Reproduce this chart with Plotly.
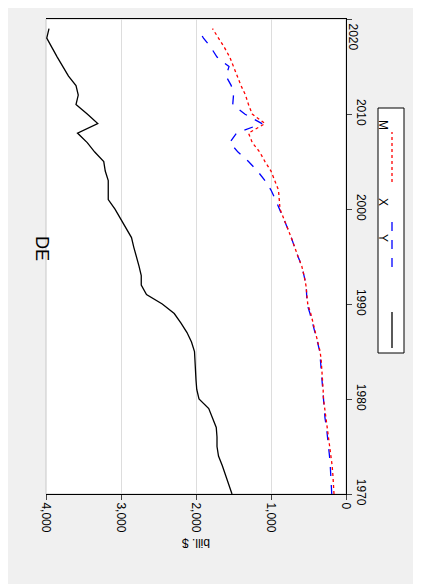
import plotly.graph_objects as go

years = list(range(1970, 2020))
y_gdp = [1520, 1560, 1600, 1650, 1700, 1720, 1720, 1730, 1780, 1830,
         1960, 1990, 2000, 2005, 2010, 2020, 2060, 2120, 2200, 2290,
         2450, 2660, 2730, 2730, 2760, 2800, 2830, 2860, 2930, 3000,
         3080, 3170, 3170, 3170, 3210, 3230, 3350, 3450, 3580, 3310,
         3450, 3600, 3570, 3600, 3700, 3780, 3850, 3920, 3990, 3960]
x_exp = [190, 195, 200, 210, 220, 230, 245, 260, 280, 290,
         300, 310, 320, 330, 340, 350, 380, 410, 450, 480,
         520, 520, 530, 560, 590, 640, 680, 730, 780, 830,
         880, 940, 1000, 1080, 1180, 1300, 1440, 1550, 1460, 1120,
         1350, 1510, 1500, 1530, 1600, 1560, 1720, 1800, 1900, 1980]
m_imp = [160, 165, 175, 185, 200, 215, 230, 245, 265, 285,
         300, 305, 310, 320, 330, 345, 375, 405, 440, 470,
         510, 525, 535, 560, 590, 640, 680, 730, 780, 830,
         880, 890, 900, 950, 1000, 1080, 1150, 1250, 1300, 1080,
         1250, 1300, 1340, 1400, 1450, 1500, 1550, 1620, 1700, 1780]
year_ticks = [1970, 1980, 1990, 2000, 2010, 2020]

fig = go.Figure()
fig.add_trace(go.Scatter(x=y_gdp, y=years, mode="lines", name="Y",
                         line=dict(color="black", width=1.3)))
fig.add_trace(go.Scatter(x=x_exp, y=years, mode="lines", name="X",
                         line=dict(color="blue", width=1.3, dash="dash")))
fig.add_trace(go.Scatter(x=m_imp, y=years, mode="lines", name="M",
                         line=dict(color="red", width=1.3, dash="dot")))

# screen-pixel helpers (plot area spans x 46..346, y 19..494 on screen)
def px(x):
    return (x - 46) / 300

def py(y):
    return (494 - y) / 475

shapes = [
    dict(type="rect", xref="paper", yref="paper", x0=px(5), x1=px(430),
         y0=py(600), y1=py(4), line=dict(width=0), fillcolor="#f0f0f0", layer="below"),
    dict(type="rect", xref="paper", yref="paper", x0=0, x1=1, y0=0, y1=1,
         line=dict(color="#c8c8c8", width=1), fillcolor="white", layer="below"),
    dict(type="rect", xref="paper", yref="paper", x0=px(378), x1=px(404),
         y0=py(353), y1=py(108), line=dict(color="black", width=1), fillcolor="white"),
    dict(type="line", xref="paper", yref="paper", x0=px(392), x1=px(392),
         y0=py(348), y1=py(312), line=dict(color="black", width=1.3)),
    dict(type="line", xref="paper", yref="paper", x0=px(392), x1=px(392),
         y0=py(267), y1=py(218), line=dict(color="blue", width=1.3, dash="dash")),
    dict(type="line", xref="paper", yref="paper", x0=px(392), x1=px(392),
         y0=py(182), y1=py(132), line=dict(color="red", width=1.3, dash="dot")),
]
annotations = [
    dict(text="DE", x=px(30), y=py(248), xref="paper", yref="paper",
         showarrow=False, textangle=90, font=dict(size=18, color="black")),
    dict(text="bill. $", x=px(196), y=py(552), xref="paper", yref="paper",
         showarrow=False, textangle=180, font=dict(size=12, color="black")),
    dict(text=str(year_ticks[-1]), x=px(361), y=py(21), xref="paper", yref="paper",
         showarrow=False, textangle=90, font=dict(size=12, color="black")),
]
for lab, yy in [("Y", 238), ("X", 202), ("M", 118)]:
    annotations.append(dict(text=lab, x=px(392), y=py(yy), xref="paper", yref="paper",
                            showarrow=False, textangle=90, font=dict(size=12, color="black")))

fig.update_layout(
    width=421, height=584,
    margin=dict(l=38, r=83, t=11, b=98, autoexpand=False),
    paper_bgcolor="white", plot_bgcolor="rgba(0,0,0,0)",
    showlegend=False,
    font=dict(family="Liberation Sans, Arial", size=12, color="black"),
    xaxis=dict(range=[4000, 0], tickvals=[0, 1000, 2000, 3000, 4000], tickformat=",",
               tickangle=90, showgrid=True, gridcolor="#dddddd", zeroline=False,
               showline=True, linecolor="black", ticks="outside", ticklen=5,
               mirror=True, automargin=False),
    yaxis=dict(range=[1970, 2020.01], side="right", tickvals=year_ticks,
               ticktext=[str(v) for v in year_ticks[:-1]] + [""],
               tickangle=90, showgrid=False, zeroline=False, showline=True,
               linecolor="black", ticks="outside", ticklen=5, automargin=False),
    shapes=shapes, annotations=annotations,
)

fig.write_html("out.html")
